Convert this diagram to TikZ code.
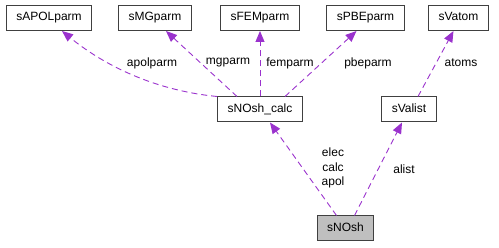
\documentclass[tikz,border=0pt]{standalone}
\usepackage{fontspec}
\setmainfont{Liberation Sans}
\usepackage{tikz}
\usetikzlibrary{arrows.meta}

\definecolor{usecol}{HTML}{9A32CD}
\definecolor{boxline}{HTML}{404040}

\begin{document}
\begin{tikzpicture}[x=1pt, y=-1pt,
    every node/.style = {font=\fontsize{12}{14.5}\selectfont},
    cls/.style = {draw=boxline, line width=1pt, fill=white, inner xsep=10pt,
                  minimum height=25pt, text height=8.5pt, text depth=2.5pt},
    usage/.style = {usecol, line width=0.9pt, dash pattern=on 6pt off 4pt,
                    -{Triangle[length=11pt,width=9pt]}}]
  \useasboundingbox (0,0) rectangle (499,248);

  % used structs
  \node[cls] (apol) at (49,18) {sAPOLparm};
  \node[cls] (mg)   at (155,18) {sMGparm};
  \node[cls] (fem)  at (260,18) {sFEMparm};
  \node[cls] (pbe)  at (365.5,18) {sPBEparm};
  \node[cls] (atom) at (458.5,18) {sVatom};
  \node[cls] (calc) at (260,109.5) {sNOsh\_calc};
  \node[cls] (alist) at (409,109.5) {sValist};
  \node[cls, fill=black!25] (nosh) at (345.5,228.5) {sNOsh};

  % member edges
  \draw[usage] (calc.north west) .. controls (150,90) and (100,62) .. ([xshift=13pt]apol.south);
  \draw[usage] ([xshift=-23pt]calc.north) -- ([xshift=11pt]mg.south);
  \draw[usage] (calc.north) -- (fem.south);
  \draw[usage] ([xshift=25pt]calc.north) -- ([xshift=-9pt]pbe.south);
  \draw[usage] ([xshift=9pt]alist.north) -- ([xshift=-5pt]atom.south);
  \draw[usage] ([xshift=-9pt]nosh.north) -- ([xshift=10pt]calc.south);
  \draw[usage] ([xshift=9pt]nosh.north) -- ([xshift=-7pt]alist.south);

  % member names
  \node (lapol)  at (152,63) {apolparm};
  \node (lmg)    at (228,63) {mgparm};
  \node (lfem)   at (290,63) {femparm};
  \node (lpbe)   at (368,63) {pbeparm};
  \node (latom)  at (461,63) {atoms};
  \node[align=center, inner sep=0pt] (lnosh) at (333,168) {elec\\calc\\apol};
  \node (lalist) at (404,169) {alist};
\end{tikzpicture}
\end{document}
